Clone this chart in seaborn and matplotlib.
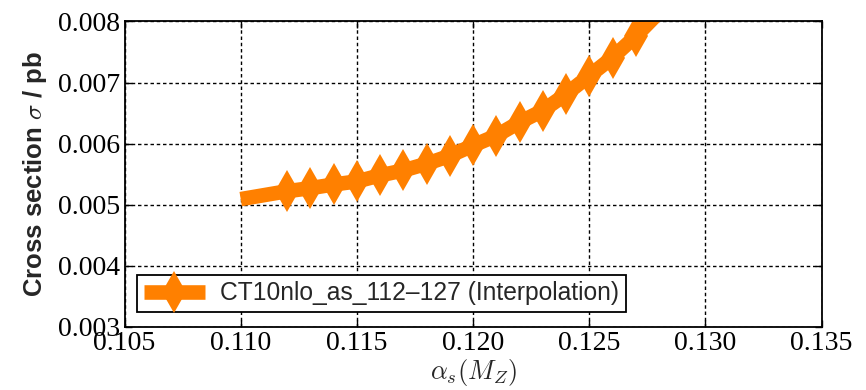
import numpy as np
import pandas as pd
import matplotlib
matplotlib.use("Agg")
import matplotlib.pyplot as plt
import seaborn as sns

# Data
alpha_s = [0.110, 0.112, 0.113, 0.114, 0.115, 0.116, 0.117, 0.118, 0.119,
           0.120, 0.121, 0.122, 0.123, 0.124, 0.125, 0.126, 0.127, 0.128]
xsec = [0.00509, 0.00522, 0.00527, 0.00533, 0.00538, 0.00548, 0.00556, 0.00567,
        0.00580, 0.00597, 0.00613, 0.00635, 0.00654, 0.00681, 0.00711, 0.00741,
        0.00776, 0.00815]
series_label = "CT10nlo_as_112\u2013127 (Interpolation)"
x_ticks = [0.105, 0.110, 0.115, 0.120, 0.125, 0.130, 0.135]
y_ticks = [0.003, 0.004, 0.005, 0.006, 0.007, 0.008]

df = pd.DataFrame({"alpha_s": alpha_s, "xsec": xsec})

sns.set_style("white")
plt.rcParams["mathtext.fontset"] = "cm"
plt.rcParams["font.family"] = ["Liberation Sans", "DejaVu Sans"]

fig = plt.figure(figsize=(8.66, 3.90), dpi=100)
ax = fig.add_axes([0.1438, 0.1623, 0.8050, 0.7826])

orange = "#ff8000"
marker_idx = list(range(1, len(alpha_s) - 1))
sns.lineplot(data=df, x="alpha_s", y="xsec", ax=ax, color=orange, lw=10.5,
             marker="d", markersize=21, markeredgewidth=0, markevery=marker_idx,
             label=series_label, solid_capstyle="butt", sort=True)

ax.set_xlim(0.105, 0.135)
ax.set_ylim(0.003, 0.008)
ax.set_xticks(x_ticks)
ax.set_yticks(y_ticks)
ax.set_xticklabels([f"{v:.3f}" for v in x_ticks], family="Liberation Serif", fontsize=20)
ax.set_yticklabels([f"{v:.3f}" for v in y_ticks], family="Liberation Serif", fontsize=20)
ax.tick_params(direction="in", length=5, width=1, top=True, right=True,
               bottom=True, left=True, pad=3, colors="black")

ax.grid(True, color="black", linestyle=(0, (2.5, 2.0)), linewidth=1.0)
for s in ax.spines.values():
    s.set_color("black")
    s.set_linewidth(1.3)

ax.set_xlabel(r"$\alpha_s(M_Z)$", fontsize=19)
ax.set_ylabel(r"Cross section $\sigma$ / pb", fontsize=18.5, fontweight="bold")
ax.xaxis.set_label_coords(0.5, -0.098)
ax.yaxis.set_label_coords(-0.108, 0.5)

leg = ax.legend(loc="lower left", bbox_to_anchor=(0.018, 0.048), borderaxespad=0,
                fontsize=17.7, frameon=True, fancybox=False, framealpha=1,
                handlelength=2.5, borderpad=0.27, handletextpad=0.6)
leg.get_frame().set_edgecolor("black")
leg.get_frame().set_linewidth(1.3)

fig.savefig("out.png", dpi=100)
